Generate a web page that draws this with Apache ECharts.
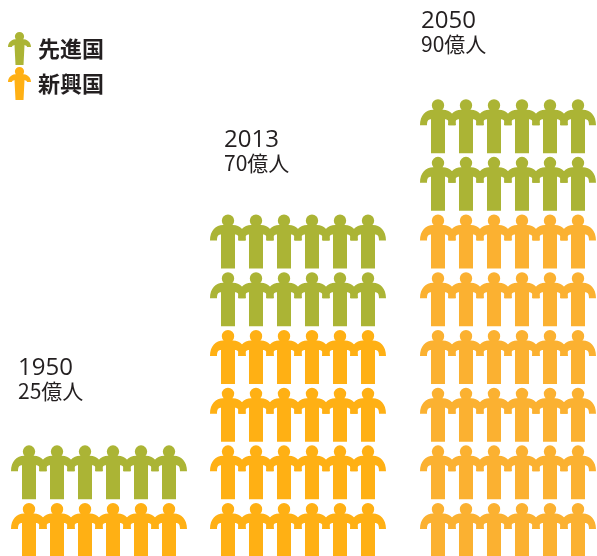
<!DOCTYPE html>
<html>
<head>
<meta charset="utf-8">
<style>html,body{margin:0;padding:0;background:#fff}#chart{width:597px;height:556px}</style>
<script src="https://cdn.jsdelivr.net/npm/echarts@6/dist/echarts.min.js"></script>
</head>
<body>
<div id="chart"></div>
<script>
// World population by year, one row of six figures per band
const years = ['1950', '2013', '2050'];
const totals = ['25億人', '70億人', '90億人'];
const developedRows = [1, 2, 2];
const emergingRows = [1, 4, 6];
const seriesNames = ['先進国', '新興国'];
const figuresPerRow = 6;

const developedColour = '#ABB435';
const emergingColours = ['#FFB014', '#FFB014', '#FBB131'];
const groupStart = [0, 7.107, 14.607];   // first figure of each year, in figure widths
const groupText = { left: [18, 224, 421], top: [356, 128, 9] };

// Linked figure with raised arms, drawn as one path
const figure = 'path://M18 0A6.2 6.2 0 1 1 18 12.4A6.2 6.2 0 1 1 18 0Z' +
  'M0 26C0 16 6 10.5 13 10.5L23 10.5C30 10.5 36 16 36 26L29 26C29 22 28 20 25 20L25 54L11 54L11 20C8 20 7 22 7 26Z';
// Single standing figure used for the key
const keyFigure = 'path://M11.5 0A4.6 4.6 0 1 1 11.5 9.2A4.6 4.6 0 1 1 11.5 0Z' +
  'M0 15C0 10 4 7 9 7L14 7C19 7 23 10 23 15L19 15C19 14 18 13.5 16.5 13L15.5 33L7.5 33L6.5 13C5 13.5 4 14 4 15Z';

function points(rowsPerYear, rowsBelow, colourFor) {
  const out = [];
  rowsPerYear.forEach((rows, g) => {
    for (let r = 0; r < rows; r++) {
      for (let i = 0; i < figuresPerRow; i++) {
        out.push({
          value: [groupStart[g] + i, rowsBelow[g] + r],
          itemStyle: { color: colourFor(g) }
        });
      }
    }
  });
  return out;
}

const noBelow = years.map(() => 0);
const chart = echarts.init(document.getElementById('chart'), null, { renderer: 'canvas' });
chart.setOption({
  animation: false,
  backgroundColor: '#fff',
  grid: { left: 29, right: 0, top: 0, bottom: 0 },
  xAxis: { type: 'value', min: 0, max: 568 / 28, show: false },
  yAxis: { type: 'value', min: -0.45, max: 556 / 57.7 - 0.45, show: false },
  legend: {
    orient: 'vertical', left: 8, top: 32, padding: 0,
    itemWidth: 23, itemHeight: 33, itemGap: 2,
    selectedMode: false,
    textStyle: {
      fontFamily: 'Noto Sans CJK JP', fontWeight: 'bold', fontSize: 22,
      color: '#231F20', padding: [0, 0, 2, 2]
    },
    data: seriesNames.map(name => ({ name, icon: keyFigure }))
  },
  graphic: years.flatMap((year, g) => [
    {
      type: 'text', left: groupText.left[g], top: groupText.top[g],
      style: { text: year, font: '24px "Open Sans"', fill: '#231F20' }
    },
    {
      type: 'text', left: groupText.left[g], top: groupText.top[g] + 25,
      style: { text: totals[g], font: '21px "Noto Sans CJK JP"', fill: '#231F20' }
    }
  ]),
  series: [
    {
      name: seriesNames[1], type: 'scatter', clip: false,
      symbol: figure, symbolSize: [36, 54],
      itemStyle: { color: emergingColours[0], opacity: 1 },
      data: points(emergingRows, noBelow, g => emergingColours[g])
    },
    {
      name: seriesNames[0], type: 'scatter', clip: false,
      symbol: figure, symbolSize: [36, 54],
      itemStyle: { color: developedColour, opacity: 1 },
      data: points(developedRows, emergingRows, () => developedColour)
    }
  ]
});
</script>
</body>
</html>
